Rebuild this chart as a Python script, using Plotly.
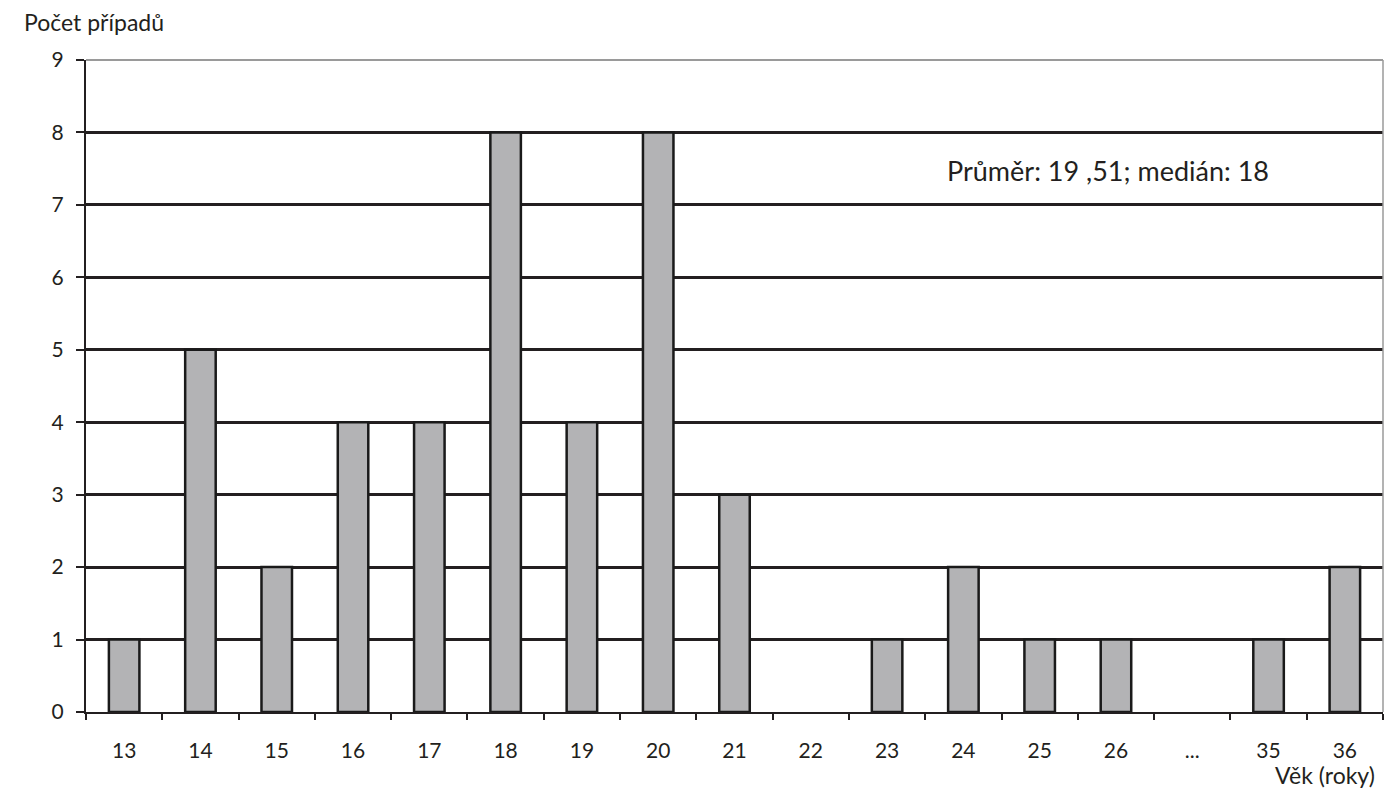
import plotly.graph_objects as go

# Data
vek = ['13', '14', '15', '16', '17', '18', '19', '20', '21', '22',
       '23', '24', '25', '26', '...', '35', '36']
pocet = [1, 5, 2, 4, 4, 8, 4, 8, 3, 0, 1, 2, 1, 1, 0, 1, 2]
y_ticks = [0, 1, 2, 3, 4, 5, 6, 7, 8, 9]

font = 'Lato'
ink = '#231f20'

# empty categories get no outline stub on the baseline
obrys = [2.5 if v > 0 else 0 for v in pocet]

fig = go.Figure()

fig.add_trace(
    go.Bar(
        x=vek,
        y=pocet,
        width=0.4,
        marker=dict(
            color='#b3b3b5',
            line=dict(color='#1a1a1a', width=obrys)
        ),
        showlegend=False
    )
)

fig.update_layout(
    width=1395,
    height=800,
    plot_bgcolor='white',
    paper_bgcolor='white',
    margin=dict(l=86, r=12, t=60, b=88),
    font=dict(family=font, size=21, color=ink),
    xaxis=dict(
        type='category',
        showgrid=False,
        showline=True,
        linecolor=ink,
        linewidth=2,
        ticks='outside',
        tickson='boundaries',
        ticklen=6,
        tickwidth=2,
        tickcolor=ink,
        ticklabelstandoff=19,
    ),
    yaxis=dict(
        range=[0, 9],
        tickvals=y_ticks,
        showgrid=True,
        gridcolor=ink,
        gridwidth=2.5,
        zeroline=False,
        showline=True,
        linecolor=ink,
        linewidth=2,
        ticks='outside',
        ticklen=8,
        tickwidth=2,
        tickcolor=ink,
        ticklabelstandoff=8,
    ),
    shapes=[
        dict(type='line', xref='paper', yref='paper', x0=0, x1=1, y0=1, y1=1,
             line=dict(color='#9a9a9a', width=2)),
        dict(type='line', xref='paper', yref='paper', x0=1, x1=1, y0=0, y1=1,
             line=dict(color='#9a9a9a', width=1.5)),
    ],
    annotations=[
        dict(text='Počet případů', xref='paper', yref='paper', x=-0.049, y=1.058,
             xanchor='left', yanchor='middle', showarrow=False, font=dict(size=23)),
        dict(text='Věk (roky)', xref='paper', yref='paper', x=0.995, y=-0.097,
             xanchor='right', yanchor='middle', showarrow=False, font=dict(size=23)),
        dict(text='Průměr: 19 ,51; medián: 18', xref='paper', yref='y', x=0.662, y=7.48,
             xanchor='left', yanchor='middle', showarrow=False, font=dict(size=27)),
    ],
)

fig.write_html(
    'out.html',
    config={'displayModeBar': False},
    post_script="document.body.style.margin='0';document.body.style.overflow='hidden';"
)
